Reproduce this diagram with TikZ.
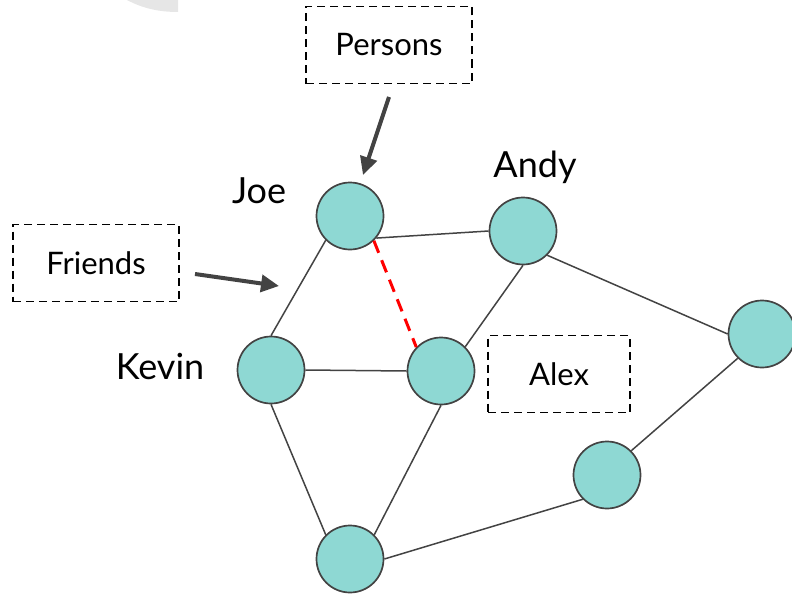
\documentclass[tikz,border=0pt]{standalone}
\usepackage{fontspec}
\setmainfont{Lato}
\usetikzlibrary{arrows.meta,positioning}
\definecolor{nodecolor}{HTML}{8ED8D3}
\definecolor{linecolor}{HTML}{434343}
\definecolor{arccolor}{HTML}{E6E6E6}

\begin{document}
\begin{tikzpicture}[x=1pt, y=-1pt,
    person/.style={circle, draw=linecolor, line width=1.7pt, fill=nodecolor,
                   minimum size=67pt, inner sep=0pt},
    personname/.style={anchor=base, font=\fontsize{36}{40}\selectfont},
    labelbox/.style={draw=black, line width=1.6pt, dash pattern=on 8pt off 5pt,
                     minimum height=77pt, font=\fontsize{31}{36}\selectfont},
    link/.style={draw=linecolor, line width=1.5pt},
    pointer/.style={draw=linecolor, line width=4pt, -{Triangle[length=18pt,width=17pt]}}]
  \useasboundingbox (0,0) rectangle (792,594);

  % grey corner shape at the top
  \fill[arccolor] (127,0) .. controls (142,8) and (158,12) .. (178,12) -- (178,0) -- cycle;

  % the persons
  \node[person] (joe)   at (350,216) {};
  \node[person] (andy)  at (523,231) {};
  \node[person] (kevin) at (271,370) {};
  \node[person] (alex)  at (441,371) {};
  \node[person] (right) at (762,334) {};
  \node[person] (lower) at (607,475) {};
  \node[person] (bottom) at (350,559) {};

  % names
  \node[personname] (joename)   at (259,203) {Joe};
  \node[personname] (andyname)  at (535,177) {Andy};
  \node[personname] (kevinname) at (160,379) {Kevin};

  % friendships
  \draw[link] (joe.-40) -- (andy.west);
  \draw[link] (joe.-135) -- (kevin.north);
  \draw[link] (andy.south) -- (alex.45);
  \draw[link] (andy.-45) -- (right.west);
  \draw[link] (kevin.east) -- (alex.west);
  \draw[link] (kevin.south) -- (bottom.135);
  \draw[link] (alex.south) -- (bottom.45);
  \draw[link] (bottom.east) -- (lower.-135);
  \draw[link] (lower.45) -- (right.-135);
  \draw[red, line width=3pt, dash pattern=on 13pt off 8pt] (joe.-46) -- (alex.136);

  % boxes with arrows
  \node[labelbox, minimum width=166pt] (personsbox) at (389,45) {Persons};
  \node[labelbox, minimum width=166pt] (friendsbox) at (96,263) {Friends};
  \node[labelbox, minimum width=142pt] (alexbox)    at (559,374) {Alex};

  \coordinate (personsfrom) at (389,97);
  \coordinate (personsto)   at (363,175);
  \coordinate (friendsfrom) at (195,274);
  \coordinate (friendsto)   at (279,286);
  \draw[pointer] (personsfrom) -- (personsto);
  \draw[pointer] (friendsfrom) -- (friendsto);
\end{tikzpicture}
\end{document}
